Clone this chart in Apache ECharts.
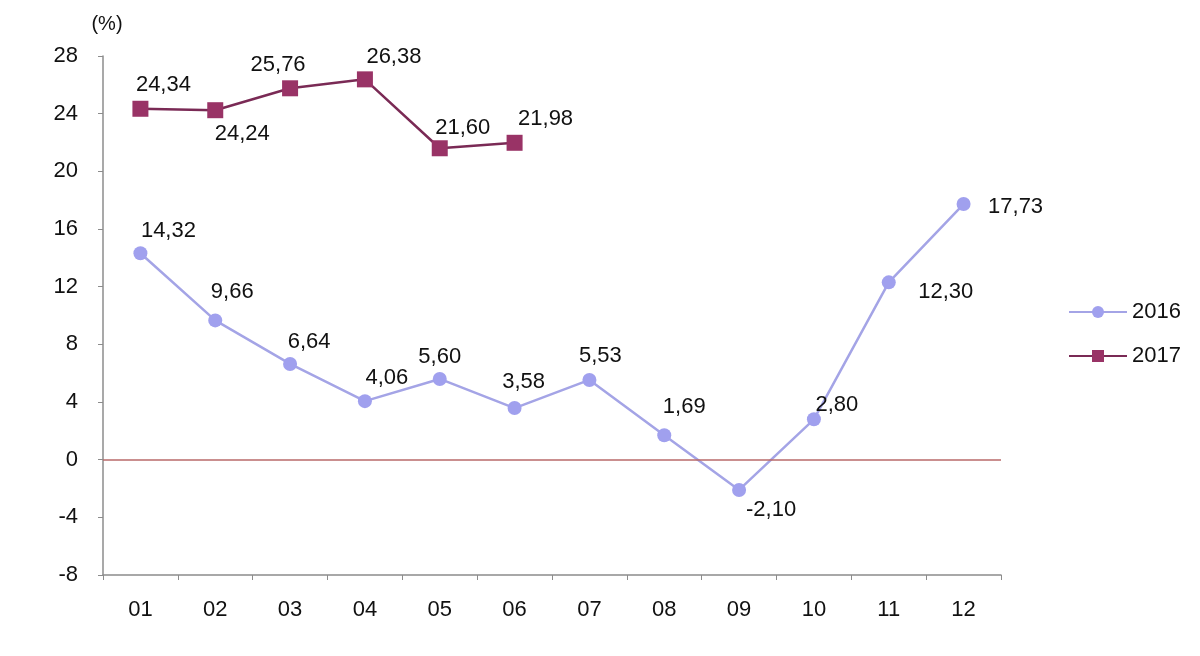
<!DOCTYPE html>
<html lang="tr">
<head>
    <meta charset="UTF-8">
    <title>2016 - 2017</title>
    <script type="text/javascript" src="https://cdn.jsdelivr.net/npm/echarts@6/dist/echarts.min.js"></script>
</head>
<body style="margin:0;background:#fff;">
    <div id="charts" style="width:1200px;height:656px;"></div>
</body>
<script type="text/javascript">
    // veriler
    var months = ['01', '02', '03', '04', '05', '06', '07', '08', '09', '10', '11', '12'];
    var values2016 = [14.32, 9.66, 6.64, 4.06, 5.60, 3.58, 5.53, 1.69, -2.10, 2.80, 12.30, 17.73];
    var values2017 = [24.34, 24.24, 25.76, 26.38, 21.60, 21.98];

    // etiket kaydırmaları (piksel)
    var offsets2016 = [[28, -22], [17, -28], [19, -22], [22, -23], [0, -22], [9, -26],
                       [11, -24], [20, -28], [32, 20], [23, -14], [57, 10], [52, 3]];
    var offsets2017 = [[23, -24], [27, 24], [-12, -23], [29, -22], [23, -20], [31, -24]];

    function fmt(v) {
        return v.toFixed(2).replace('.', ',');
    }
    function build(vals, offs) {
        return vals.map(function (v, i) {
            return {
                value: v,
                label: { offset: offs[i] }
            };
        });
    }

    var myChart = echarts.init(document.getElementById('charts'));
    var font = 'Liberation Sans, Arial, sans-serif';

    var option = {
        animation: false,
        textStyle: { fontFamily: font },
        grid: { left: 103, right: 199, top: 56, bottom: 81 },
        legend: {
            orient: 'vertical',
            left: 1063,
            top: 296,
            itemGap: 22,
            itemWidth: 58,
            itemHeight: 15,
            textStyle: { fontSize: 22, color: '#111', fontFamily: font },
            data: ['2016', '2017']
        },
        xAxis: {
            type: 'category',
            data: months,
            axisLine: { onZero: false, lineStyle: { color: '#8c8c8c', width: 1.5 } },
            axisTick: { show: true, length: 5, lineStyle: { color: '#8c8c8c' } },
            axisLabel: { fontSize: 22, color: '#111', margin: 24 }
        },
        yAxis: {
            type: 'value',
            name: '(%)',
            nameLocation: 'end',
            nameGap: 22,
            nameTextStyle: { fontSize: 20, color: '#111', align: 'center', padding: [0, 0, 0, 8] },
            min: -8,
            max: 28,
            interval: 4,
            axisLine: { show: true, lineStyle: { color: '#8c8c8c', width: 1.5 } },
            axisTick: { show: true, length: 5, lineStyle: { color: '#8c8c8c' } },
            axisLabel: { fontSize: 22, color: '#111', margin: 25 },
            splitLine: { show: false }
        },
        series: [
            {
                name: '2016',
                type: 'line',
                data: build(values2016, offsets2016),
                symbol: 'circle',
                symbolSize: 14,
                lineStyle: { color: '#a4a4e6', width: 2.5 },
                itemStyle: { color: '#a0a0ee' },
                label: {
                    show: true,
                    position: 'inside',
                    fontSize: 22,
                    color: '#111',
                    formatter: function (p) { return fmt(p.value); }
                },
                markLine: {
                    silent: true,
                    symbol: 'none',
                    label: { show: false },
                    lineStyle: { color: '#b86a6a', width: 1.5, type: 'solid' },
                    data: [{ yAxis: 0 }]
                },
                z: 3
            },
            {
                name: '2017',
                type: 'line',
                data: build(values2017, offsets2017),
                symbol: 'rect',
                symbolSize: 16,
                lineStyle: { color: '#7a2a55', width: 2.5 },
                itemStyle: { color: '#993366' },
                label: {
                    show: true,
                    position: 'inside',
                    fontSize: 22,
                    color: '#111',
                    formatter: function (p) { return fmt(p.value); }
                },
                z: 4
            }
        ]
    };

    myChart.setOption(option);
</script>
</html>
